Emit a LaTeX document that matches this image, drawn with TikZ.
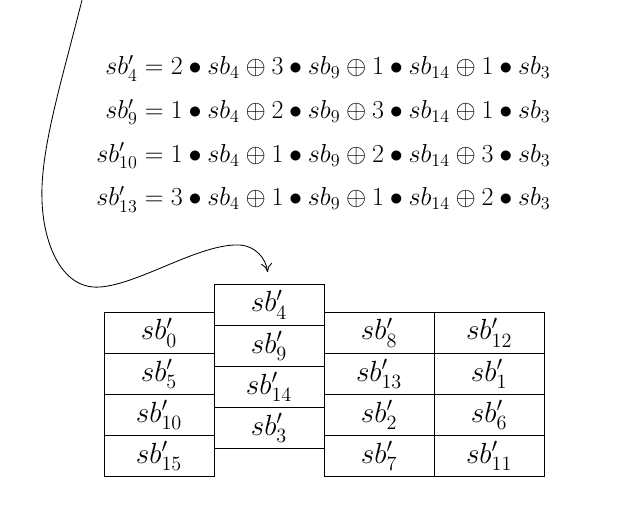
\documentclass[tikz,border=0pt]{standalone}
\usetikzlibrary{arrows.meta, positioning}

\begin{document}
\begin{tikzpicture}[
		x=0.025cm, y=0.025cm,
		node distance=0pt,
		% Define styles
		cell/.style={rectangle, minimum width=2.75cm, minimum height=1.03cm, inner sep=0pt, outer sep=0pt, text centered, draw=black, line width=0.6pt, font=\fontsize{20.74}{25}\selectfont},
		eqn/.style={inner sep=0pt, scale=1.07, transform shape, font=\fontsize{17.28}{21}\selectfont},
		arrow/.style={line width=0.6pt, -{To[length=2.2mm, width=2.8mm]}, shorten >=0.3cm}
		]
		
		\useasboundingbox (0,0) rectangle (636,-509);
		
		% MixColumns equations
		\node (eqs) [eqn] at (323.5,-134) {$\begin{array}{@{}r@{}l@{}}
				sb'_4 & {}= 2 \bullet sb_4 \oplus 3 \bullet sb_9 \oplus 1 \bullet sb_{14} \oplus 1 \bullet sb_3 \\[8pt]
				sb'_9 & {}= 1 \bullet sb_4 \oplus 2 \bullet sb_9 \oplus 3 \bullet sb_{14} \oplus 1 \bullet sb_3 \\[8pt]
				sb'_{10} & {}= 1 \bullet sb_4 \oplus 1 \bullet sb_9 \oplus 2 \bullet sb_{14} \oplus 3 \bullet sb_3 \\[8pt]
				sb'_{13} & {}= 3 \bullet sb_4 \oplus 1 \bullet sb_9 \oplus 1 \bullet sb_{14} \oplus 2 \bullet sb_3
			\end{array}$};
		
		% First column
		\node (sb0) [cell] at (159,-332.6) {$sb'_0$};
		\node (sb5) [cell, below=of sb0] {$sb'_5$};
		\node (sb10) [cell, below=of sb5] {$sb'_{10}$};
		\node (sb15) [cell, below=of sb10] {$sb'_{15}$};
		
		% Second column (shifted up)
		\node (sb4) [cell] at (269,-304.6) {$sb'_4$};
		\node (sb9) [cell, below=of sb4] {$sb'_9$};
		\node (sb14) [cell, below=of sb9] {$sb'_{14}$};
		\node (sb3) [cell, below=of sb14] {$sb'_3$};
		
		% Third column
		\node (sb8) [cell, right=2.75cm of sb0] {$sb'_8$};
		\node (sb13) [cell, below=of sb8] {$sb'_{13}$};
		\node (sb2) [cell, below=of sb13] {$sb'_2$};
		\node (sb7) [cell, below=of sb2] {$sb'_7$};
		
		% Fourth column
		\node (sb12) [cell, right=of sb8] {$sb'_{12}$};
		\node (sb1) [cell, below=of sb12] {$sb'_1$};
		\node (sb6) [cell, below=of sb1] {$sb'_6$};
		\node (sb11) [cell, below=of sb6] {$sb'_{11}$};
		
		% Curved arrow
		\coordinate (src) at (82,0);
		\draw [arrow] (src) .. controls (62,-80) and (40,-150) .. (42,-200)
		.. controls (43,-240) and (60,-290) .. (100,-287)
		.. controls (140,-284) and (200,-243) .. (240,-245)
		.. controls (255,-246) and (266,-258) .. (sb4.north);
		
	\end{tikzpicture}
\end{document}
